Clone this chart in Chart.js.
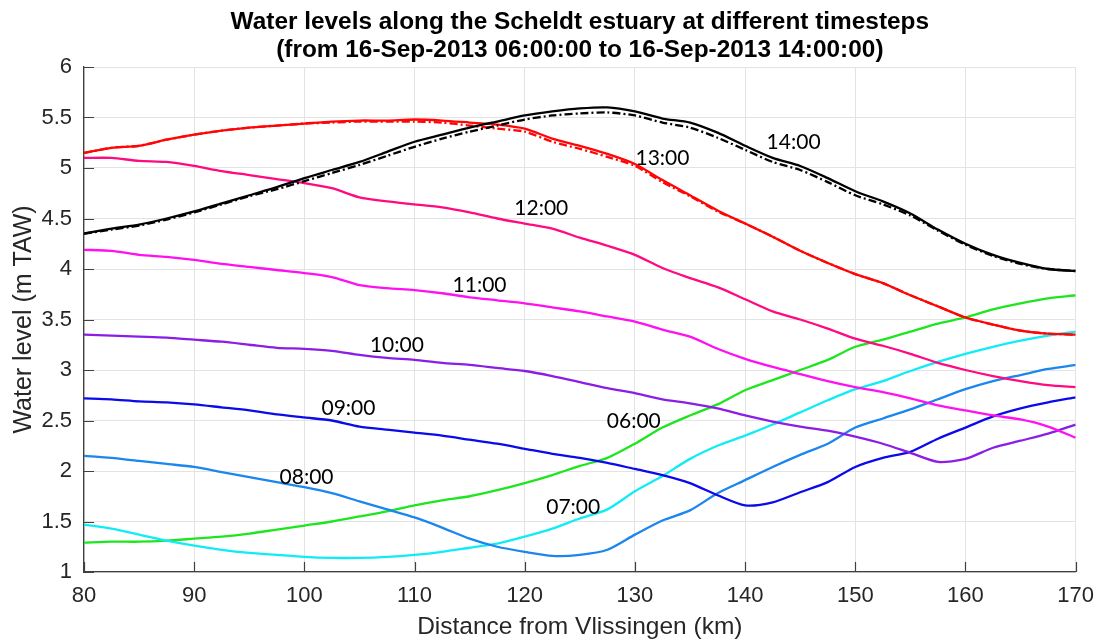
<!DOCTYPE html>
<html>
<head>
<meta charset="utf-8">
<script src="https://cdn.jsdelivr.net/npm/chart.js@4/dist/chart.umd.min.js"></script>
<style>
html,body{margin:0;padding:0;background:#fff;}
#wrap{width:1105px;height:644px;}
</style>
</head>
<body>
<div id="wrap"><canvas id="levelChart"></canvas></div>
<script>

/* distance along the estuary (km) */
const km = [80,82.5,85,87.5,90,92.5,95,97.5,100,102.5,105,107.5,110,112.5,115,117.5,120,122.5,125,127.5,130,132.5,135,137.5,140,142.5,145,147.5,150,152.5,155,157.5,160,162.5,165,167.5,170];

/* water levels (m TAW) per timestep */
const h0600 = [1.29,1.30,1.30,1.31,1.33,1.35,1.38,1.42,1.46,1.50,1.55,1.60,1.66,1.71,1.75,1.81,1.88,1.96,2.05,2.13,2.27,2.43,2.55,2.66,2.80,2.90,3.00,3.10,3.23,3.30,3.38,3.46,3.52,3.60,3.66,3.71,3.74];
const h0700 = [1.47,1.43,1.37,1.31,1.26,1.22,1.19,1.17,1.15,1.14,1.14,1.15,1.17,1.20,1.24,1.28,1.35,1.43,1.53,1.62,1.80,1.95,2.12,2.25,2.35,2.46,2.58,2.70,2.81,2.89,2.99,3.08,3.16,3.23,3.29,3.34,3.38];
const h0800 = [2.15,2.13,2.10,2.07,2.04,1.99,1.94,1.89,1.84,1.78,1.70,1.62,1.54,1.44,1.33,1.25,1.20,1.16,1.17,1.22,1.37,1.51,1.61,1.78,1.91,2.04,2.16,2.27,2.43,2.52,2.61,2.71,2.81,2.89,2.95,3.01,3.05];
const h0900 = [2.72,2.71,2.69,2.68,2.66,2.63,2.60,2.56,2.53,2.50,2.44,2.41,2.38,2.35,2.31,2.27,2.22,2.17,2.13,2.08,2.02,1.96,1.88,1.76,1.66,1.69,1.79,1.89,2.04,2.13,2.19,2.32,2.43,2.54,2.62,2.68,2.73];
const h1000 = [3.35,3.34,3.33,3.32,3.30,3.28,3.25,3.22,3.21,3.19,3.15,3.12,3.10,3.07,3.05,3.02,2.99,2.94,2.88,2.82,2.77,2.71,2.67,2.62,2.55,2.49,2.44,2.40,2.34,2.27,2.18,2.09,2.12,2.23,2.30,2.37,2.46];
const h1100 = [4.19,4.18,4.14,4.12,4.09,4.05,4.02,3.99,3.96,3.92,3.84,3.81,3.79,3.76,3.72,3.69,3.66,3.62,3.58,3.53,3.48,3.40,3.33,3.21,3.11,3.03,2.96,2.89,2.83,2.78,2.72,2.65,2.60,2.55,2.51,2.44,2.33];
const h1200 = [5.10,5.10,5.07,5.06,5.02,4.97,4.93,4.89,4.85,4.80,4.71,4.67,4.64,4.61,4.56,4.50,4.45,4.40,4.31,4.23,4.14,4.01,3.91,3.82,3.70,3.58,3.50,3.41,3.31,3.24,3.16,3.07,3.00,2.94,2.89,2.85,2.83];
const h1300 = [5.15,5.20,5.22,5.28,5.33,5.37,5.40,5.42,5.44,5.46,5.47,5.47,5.48,5.47,5.45,5.43,5.39,5.29,5.22,5.14,5.04,4.88,4.73,4.58,4.45,4.32,4.18,4.06,3.95,3.86,3.74,3.63,3.52,3.45,3.39,3.36,3.35];
const h1400 = [4.35,4.40,4.44,4.50,4.57,4.65,4.73,4.81,4.90,4.98,5.06,5.16,5.26,5.33,5.40,5.46,5.52,5.56,5.59,5.60,5.56,5.49,5.45,5.35,5.22,5.10,5.02,4.90,4.77,4.67,4.55,4.39,4.25,4.14,4.06,4.00,3.98];

/* second (dash-dot) runs, visible where they split from the solid ones */
const h1300b = [5.15,5.20,5.22,5.28,5.33,5.37,5.40,5.42,5.44,5.45,5.46,5.46,5.46,5.45,5.42,5.39,5.36,5.26,5.19,5.11,5.02,4.86,4.72,4.57,4.45,4.32,4.18,4.06,3.95,3.86,3.74,3.63,3.52,3.45,3.39,3.36,3.35];
const h1400b = [4.35,4.39,4.43,4.49,4.56,4.64,4.72,4.79,4.87,4.95,5.03,5.12,5.21,5.29,5.36,5.42,5.48,5.52,5.54,5.55,5.52,5.45,5.40,5.30,5.18,5.06,4.98,4.86,4.73,4.64,4.53,4.38,4.24,4.13,4.05,4.00,3.98];

/* line labels: text, km, level */
const labelText = ["06:00","07:00","08:00","09:00","10:00","11:00","12:00","13:00","14:00"];
const labelKm = [129.9,124.4,100.2,104.0,108.4,115.9,121.5,132.5,144.4];
const labelLevel = [2.49,1.64,1.94,2.62,3.25,3.84,4.60,5.10,5.26];

const xTicks = [80,90,100,110,120,130,140,150,160,170];

const colors = {
  "06:00":"#1ee61e",
  "07:00":"#10ecf5",
  "08:00":"#1a86ee",
  "09:00":"#0a0aea",
  "10:00":"#8a1ee6",
  "11:00":"#ff10f0",
  "12:00":"#ff0a80",
  "13:00":"#ff0505",
  "14:00":"#000000"
};

const axisFont = "'Liberation Sans', Arial, sans-serif";

function pts(arr){
  return arr.map((v,i) => ({x:km[i], y:v}));
}

function line(name, arr, dashed){
  return {
    label:name,
    data:pts(arr),
    borderColor:colors[name],
    borderWidth:2.3,
    borderDash:dashed ? [8,3,2,3] : [],
    pointRadius:0,
    tension:0.25,
    fill:false
  };
}

/* time labels next to the lines */
const timeLabels = {
  id:"timeLabels",
  afterDatasetsDraw(chart){
    const ctx = chart.ctx;
    const xs = chart.scales.x, ys = chart.scales.y;
    ctx.save();
    ctx.font = "21px Lato";
    ctx.fillStyle = "#000";
    ctx.textAlign = "center";
    ctx.textBaseline = "middle";
    labelText.forEach((t,i) => {
      ctx.fillText(t, xs.getPixelForValue(labelKm[i]), ys.getPixelForValue(labelLevel[i]));
    });
    ctx.restore();
  }
};

/* matlab style ticks pointing inwards */
const innerTicks = {
  id:"innerTicks",
  afterDraw(chart){
    const ctx = chart.ctx;
    const a = chart.chartArea;
    const xs = chart.scales.x, ys = chart.scales.y;
    ctx.save();
    ctx.strokeStyle = "#404040";
    ctx.lineWidth = 1.2;
    ctx.beginPath();
    xs.ticks.forEach(t => {
      const p = Math.round(xs.getPixelForValue(t.value)) + 0.5;
      ctx.moveTo(p, a.bottom);
      ctx.lineTo(p, a.bottom - 10);
    });
    ys.ticks.forEach(t => {
      const p = Math.round(ys.getPixelForValue(t.value)) + 0.5;
      ctx.moveTo(a.left, p);
      ctx.lineTo(a.left + 10, p);
    });
    ctx.stroke();
    ctx.restore();
  }
};

new Chart(document.getElementById("levelChart"),{

type:"line",

data:{
datasets:[
line("14:00", h1400, false),
line("14:00", h1400b, true),
line("13:00", h1300, false),
line("13:00", h1300b, true),
line("12:00", h1200, false),
line("11:00", h1100, false),
line("10:00", h1000, false),
line("09:00", h0900, false),
line("08:00", h0800, false),
line("07:00", h0700, false),
line("06:00", h0600, false)
]
},

options:{
responsive:true,
maintainAspectRatio:false,
animation:false,
events:[],
layout:{padding:{left:0,right:25,top:0,bottom:0}},
plugins:{
legend:{display:false},
tooltip:{enabled:false},
title:{
display:true,
fullSize:false,
text:["Water levels along the Scheldt estuary at different timesteps","(from 16-Sep-2013 06:00:00 to 16-Sep-2013 14:00:00)"],
color:"#000",
font:{family:axisFont,size:24.4,weight:"bold",lineHeight:28/24.4},
padding:{top:8,bottom:3}
}
},
scales:{
x:{
type:"linear",
min:80,
max:170,
afterBuildTicks(scale){ scale.ticks = xTicks.map(v => ({value:v})); },
afterFit(scale){ scale.height = 72; },
ticks:{
color:"#262626",
font:{family:axisFont,size:22},
padding:11,
maxRotation:0,
autoSkip:false
},
grid:{color:"#e3e3e3",lineWidth:1,drawTicks:false},
border:{display:true,color:"#404040",width:1.3},
title:{
display:true,
text:"Distance from Vlissingen (km)",
color:"#262626",
font:{family:axisFont,size:24.5},
padding:{top:0,bottom:2}
}
},
y:{
min:1,
max:6,
afterFit(scale){ scale.width = 84; },
ticks:{
stepSize:0.5,
color:"#262626",
font:{family:axisFont,size:22},
padding:12,
callback:v => String(Math.round(v * 10) / 10)
},
grid:{color:"#e3e3e3",lineWidth:1,drawTicks:false},
border:{display:true,color:"#404040",width:1.3},
title:{
display:true,
text:"Water level (m TAW)",
color:"#262626",
font:{family:axisFont,size:25},
padding:{top:9,bottom:0}
}
}
}
},

plugins:[timeLabels, innerTicks]

});

</script>
</body>
</html>
